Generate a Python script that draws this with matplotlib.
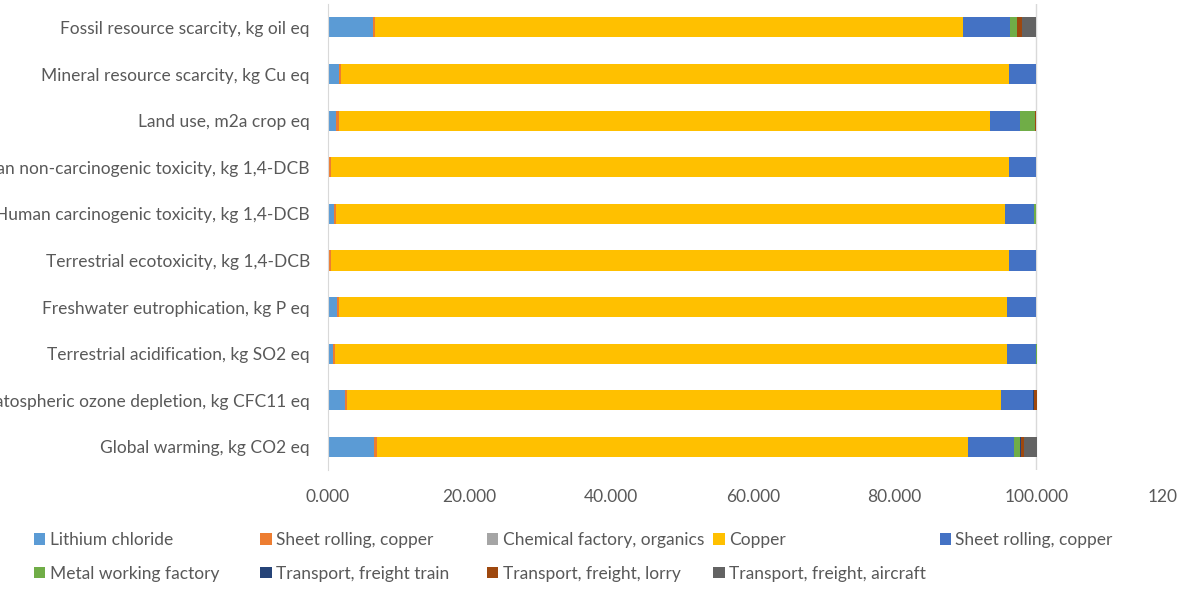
import numpy as np
import matplotlib.pyplot as plt
from matplotlib.patches import Patch

plt.rcParams["font.family"] = ["Lato", "DejaVu Sans"]

# categories, bottom to top
categories = [
    "Global warming, kg CO2 eq",
    "Stratospheric ozone depletion, kg CFC11 eq",
    "Terrestrial acidification, kg SO2 eq",
    "Freshwater eutrophication, kg P eq",
    "Terrestrial ecotoxicity, kg 1,4-DCB",
    "Human carcinogenic toxicity, kg 1,4-DCB",
    "Human non-carcinogenic toxicity, kg 1,4-DCB",
    "Land use, m2a crop eq",
    "Mineral resource scarcity, kg Cu eq",
    "Fossil resource scarcity, kg oil eq",
]

series_names = [
    "Lithium chloride",
    "Sheet rolling, copper",
    "Chemical factory, organics",
    "Copper",
    "Sheet rolling, copper",
    "Metal working factory",
    "Transport, freight train",
    "Transport, freight, lorry",
    "Transport, freight, aircraft",
]

lithium_chloride = [6.5, 2.4, 0.66, 1.27, 0.1, 0.85, 0.1, 1.2, 1.55, 6.3]
sheet_rolling_a = [0.4, 0.27, 0.28, 0.23, 0.3, 0.25, 0.3, 0.3, 0.35, 0.35]
chemical_factory = [0.02, 0.01, 0.01, 0.01, 0.01, 0.01, 0.01, 0.01, 0.01, 0.02]
copper = [83.4, 92.3, 94.9, 94.4, 95.8, 94.5, 95.8, 91.9, 94.3, 83.05]
sheet_rolling_b = [6.6, 4.5, 4.1, 4.1, 3.7, 4.1, 3.75, 4.3, 3.8, 6.6]
metal_working = [0.8, 0.1, 0.1, 0.0, 0.0, 0.3, 0.05, 2.1, 0.0, 0.9]
freight_train = [0.05, 0.05, 0.0, 0.0, 0.0, 0.0, 0.0, 0.0, 0.0, 0.1]
freight_lorry = [0.5, 0.4, 0.0, 0.0, 0.1, 0.0, 0.0, 0.2, 0.0, 0.6]
freight_aircraft = [1.8, 0.0, 0.0, 0.0, 0.0, 0.0, 0.0, 0.0, 0.0, 2.1]

x_ticks = [0, 20, 40, 60, 80, 100, 120]
x_tick_labels = ["0.000", "20.000", "40.000", "60.000", "80.000", "100.000", "120"]

colors = ["#5B9BD5", "#ED7D31", "#A5A5A5", "#FFC000", "#4472C4",
          "#70AD47", "#264478", "#9E480E", "#636363"]

all_series = [lithium_chloride, sheet_rolling_a, chemical_factory, copper,
              sheet_rolling_b, metal_working, freight_train, freight_lorry,
              freight_aircraft]

text_color = "#595959"
fs = 12.5

fig = plt.figure(figsize=(11.87, 5.96), dpi=100)
ax = fig.add_axes([0.2763, 0.211, 0.9924 - 0.2763, 0.993 - 0.211])

y = np.arange(len(categories))
left = np.zeros(len(categories))
for vals, c in zip(all_series, colors):
    vals = np.array(vals)
    ax.barh(y, vals, left=left, height=0.43, color=c, linewidth=0)
    left += vals

ax.set_xlim(0, 120)
ax.set_ylim(-0.5, len(categories) - 0.5)
ax.set_yticks(y)
ax.set_yticklabels(categories)
ax.set_xticks(x_ticks)
ax.set_xticklabels(x_tick_labels)
ax.tick_params(axis="both", length=0, labelsize=fs, labelcolor=text_color)
ax.tick_params(axis="y", pad=13)
ax.tick_params(axis="x", pad=13.5)
# last label pulled inside the chart like Excel does
ax.get_xticklabels()[-1].set_horizontalalignment("right")

for s in ["top", "right", "bottom"]:
    ax.spines[s].set_visible(False)
ax.spines["left"].set_color("#D9D9D9")
ax.axvline(100, color="#D9D9D9", linewidth=1, zorder=0)

# legend laid out row by row, equal column widths like the original
handles = [Patch(facecolor=c, edgecolor="none") for c in colors]
ncol = 5
for col in range(ncol):
    idx = [i for i in (col, col + ncol) if i < len(series_names)]
    fig.legend([handles[i] for i in idx], [series_names[i] for i in idx],
               loc="upper left", bbox_to_anchor=(0.0286 + col * 0.1908, 0.107),
               frameon=False, fontsize=fs, labelcolor=text_color,
               handlelength=0.65, handleheight=0.65, handletextpad=0.25,
               labelspacing=1.0, borderaxespad=0, borderpad=0)

fig.savefig("out.png", dpi=100)
